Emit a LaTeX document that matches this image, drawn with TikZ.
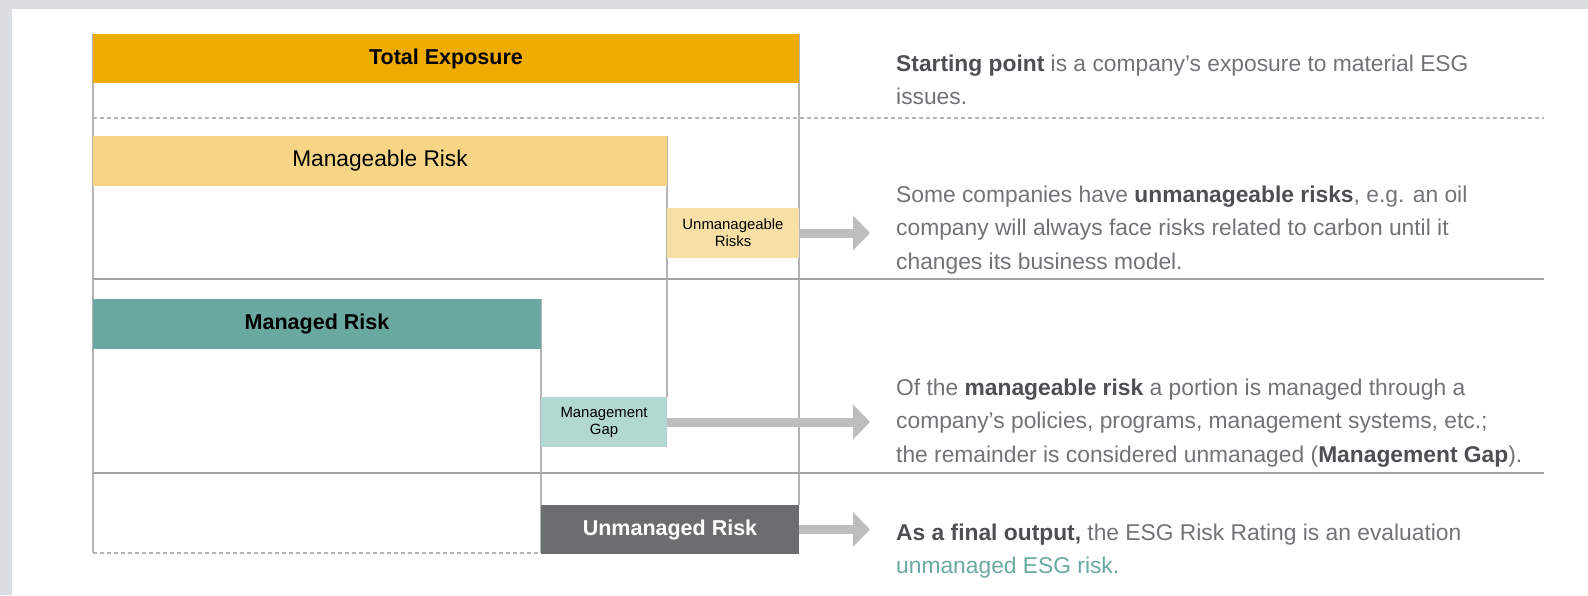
\documentclass[tikz,border=0pt]{standalone}
\usepackage{fontspec}
\setmainfont{Liberation Sans}
\usetikzlibrary{arrows.meta}
\definecolor{bggray}{HTML}{DADEE0}
\definecolor{exposure}{HTML}{EFAC00}
\definecolor{manageable}{HTML}{F6D587}
\definecolor{unmanageable}{HTML}{F7DFA6}
\definecolor{managed}{HTML}{69A9A2}
\definecolor{gap}{HTML}{B3D8D1}
\definecolor{unmanaged}{HTML}{6A6E6E}
\definecolor{rule}{HTML}{B4B4B4}
\definecolor{arrowgray}{HTML}{BDBDBD}
\definecolor{bodytext}{HTML}{707476}
\definecolor{boldtext}{HTML}{4C5052}
\newcommand{\hb}[1]{{\bfseries\color{boldtext}#1}}
\tikzset{
  bar/.style={anchor=north west, inner sep=0pt, outer sep=0pt, draw=none},
  biglabel/.style={font=\fontsize{21.5}{25}\selectfont},
  smalllabel/.style={font=\fontsize{14.9}{17}\selectfont, align=center},
  vline/.style={draw=rule, line width=1.2pt},
  hline/.style={draw=rule!90!black, line width=2.5pt},
  dline/.style={draw=rule, line width=1.2pt, dash pattern=on 4pt off 3pt},
  fatarrow/.style={draw=arrowgray, line width=9pt, -{Triangle[width=34pt,length=17pt]}},
  para/.style={anchor=base west, inner sep=0pt, text=bodytext, font=\fontsize{22.8}{33.5}\selectfont}
}
\begin{document}
\begin{tikzpicture}[x=1pt,y=-1pt]
\useasboundingbox (0,0) rectangle (1588,595);
\fill[bggray] (0,0) rectangle (1588,595);
\fill[white] (12,9) rectangle (1588,595);

% grid lines
\draw[vline] (93,34) -- (93,553);
\draw[vline] (799,34) -- (799,505);
\draw[vline] (667,136) -- (667,397);
\draw[vline] (541,299) -- (541,553);
\draw[dline] (93,118) -- (1544,118);
\draw[hline] (93,279) -- (1544,279);
\draw[hline] (93,473) -- (1544,473);
\draw[dline] (93,553) -- (541,553);

% boxes
\node[bar, fill=exposure, minimum width=706pt, minimum height=49pt, biglabel] (te) at (93,34) {\bfseries Total Exposure};
\node[bar, fill=manageable, minimum width=574pt, minimum height=50pt, font=\fontsize{22.7}{25}\selectfont] (mr) at (93,136) {Manageable Risk};
\node[bar, fill=unmanageable, minimum width=132pt, minimum height=50pt, smalllabel] (ur) at (667,208) {Unmanageable\\Risks};
\node[bar, fill=managed, minimum width=448pt, minimum height=50pt, biglabel] (md) at (93,299) {\bfseries Managed Risk};
\node[bar, fill=gap, minimum width=126pt, minimum height=50pt, smalllabel] (mg) at (541,397) {Management\\Gap};
\node[bar, fill=unmanaged, minimum width=258pt, minimum height=49pt, biglabel, text=white] (um) at (541,505) {\bfseries Unmanaged Risk};

% arrows
\coordinate (t1) at (870,233);
\coordinate (t2) at (870,422);
\coordinate (t3) at (870,529.5);
\draw[fatarrow] (ur.east) -- (t1);
\draw[fatarrow] (mg.east) -- (t2);
\draw[fatarrow] (um.east) -- (t3);

% descriptions
\node[para] (p1) at (896,71) {\begin{tabular}[t]{@{}l@{}}\hb{Starting point} is a company’s exposure to material ESG\\issues.\end{tabular}};
\node[para] (p2) at (896,202) {\begin{tabular}[t]{@{}l@{}}Some companies have \hb{unmanageable risks}, e.g. an oil\\company will always face risks related to carbon until it\\changes its business model.\end{tabular}};
\node[para] (p3) at (896,395) {\begin{tabular}[t]{@{}l@{}}Of the \hb{manageable risk} a portion is managed through a\\company’s policies, programs, management systems, etc.;\\the remainder is considered unmanaged (\hb{Management Gap}).\end{tabular}};
\node[para] (p4) at (896,540) {\begin{tabular}[t]{@{}l@{}}\hb{As a final output,} the ESG Risk Rating is an evaluation\\{\color{managed}unmanaged ESG risk.}\end{tabular}};
\end{tikzpicture}
\end{document}
